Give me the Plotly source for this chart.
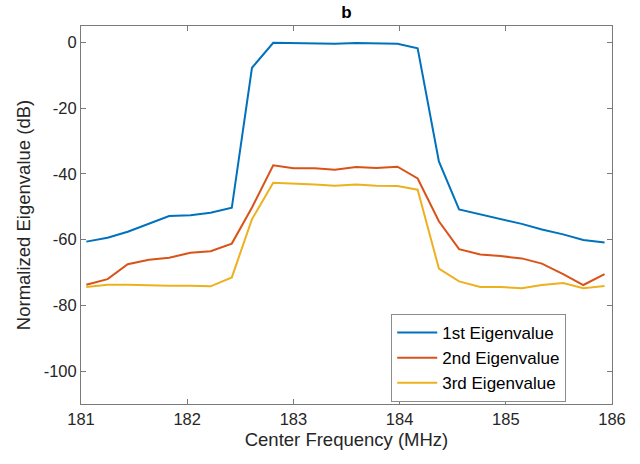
import plotly.graph_objects as go

# Center frequencies (MHz)
freq_mhz = [181.05, 181.25, 181.44, 181.64, 181.83, 182.03, 182.22, 182.42,
            182.61, 182.81, 183.00, 183.20, 183.39, 183.59, 183.78, 183.98,
            184.17, 184.37, 184.56, 184.76, 184.95, 185.15, 185.34, 185.54,
            185.73, 185.93]

# Normalized eigenvalues (dB)
eig1_db = [-60.6, -59.4, -57.6, -55.1, -52.8, -52.6, -51.8, -50.3,
           -7.7, -0.1, -0.2, -0.2, -0.4, -0.2, -0.4, -0.4,
           -1.8, -36.2, -50.8, -52.3, -53.5, -55.2, -56.9, -58.4,
           -60.1, -60.9]
eig2_db = [-73.7, -72.0, -67.5, -66.1, -65.5, -64.0, -63.5, -61.2,
           -50.2, -37.4, -38.3, -38.3, -38.7, -37.9, -38.2, -37.8,
           -41.4, -54.4, -62.9, -64.5, -65.0, -65.7, -67.3, -70.5,
           -73.8, -70.5]
eig3_db = [-74.4, -73.7, -73.7, -73.9, -74.0, -74.0, -74.2, -71.5,
           -53.8, -42.7, -42.9, -43.2, -43.6, -43.2, -43.6, -43.7,
           -44.8, -68.8, -72.7, -74.4, -74.4, -74.8, -73.8, -73.2,
           -74.8, -74.1]

series_names = ["1st Eigenvalue", "2nd Eigenvalue", "3rd Eigenvalue"]
series_colors = ["#0072BD", "#D95319", "#EDB120"]

x_ticks = [181, 182, 183, 184, 185, 186]
y_ticks = [-100, -80, -60, -40, -20, 0]
y_tick_text = ["-100", "-80", "-60", "-40", "-20", "0"]

fig = go.Figure()
for name, vals, color in zip(series_names, [eig1_db, eig2_db, eig3_db], series_colors):
    fig.add_trace(go.Scatter(x=freq_mhz, y=vals, mode="lines", name=name,
                             line=dict(color=color, width=2)))

axis_color = "#7a7a7a"
text_color = "#262626"
font_family = "Liberation Sans, Arial, sans-serif"

common_axis = dict(showline=True, linecolor=axis_color, linewidth=1, mirror="ticks",
                   ticks="inside", ticklen=5, tickcolor=axis_color, showgrid=False,
                   zeroline=False, tickfont=dict(size=16.5, color=text_color, family=font_family))

fig.update_xaxes(range=[181, 186], tickvals=x_ticks,
                 title=dict(text="Center Frequency (MHz)", font=dict(size=18.5, color=text_color, family=font_family), standoff=6),
                 **common_axis)
fig.update_yaxes(range=[-110, 5], tickvals=y_ticks, ticktext=y_tick_text,
                 title=dict(text="Normalized Eigenvalue (dB)", font=dict(size=18.5, color=text_color, family=font_family), standoff=8),
                 **common_axis)

fig.update_layout(
    width=640, height=464,
    margin=dict(l=80.5, r=27.5, t=25.5, b=60),
    plot_bgcolor="white", paper_bgcolor="white",
    font=dict(family=font_family, color=text_color),
    title=dict(text="<b>b</b>", x=(80.5 + 612.5) / 2 / 640, xanchor="center",
               y=1 - 12 / 464, yanchor="middle", yref="container",
               font=dict(size=17, color="black", family=font_family)),
    legend=dict(x=0.749, y=0.1215, xanchor="center", yanchor="middle",
                bgcolor="white", bordercolor="#8c8c8c", borderwidth=1,
                font=dict(size=17, color="black", family=font_family),
                tracegroupgap=0, itemwidth=40),
    showlegend=True,
)

fig.write_html("out.html")
